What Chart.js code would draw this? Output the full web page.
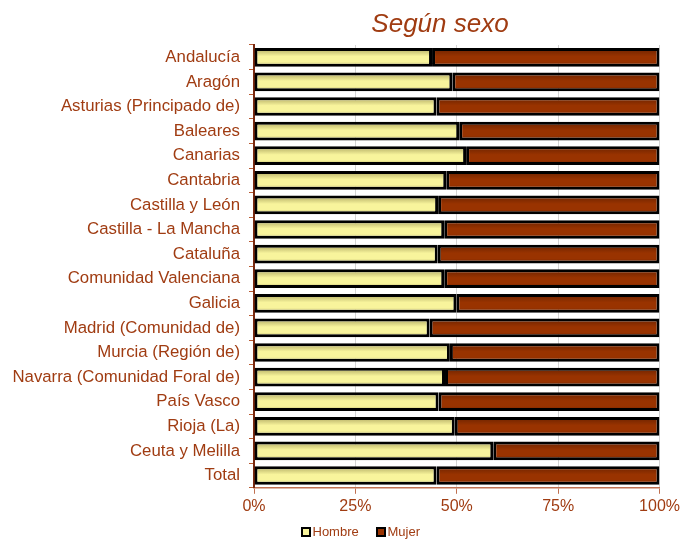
<!DOCTYPE html>
<html>
<head>
<meta charset="utf-8">
<script src="https://cdn.jsdelivr.net/npm/chart.js@4.4.1/dist/chart.umd.min.js"></script>
<style>
  html, body { margin: 0; padding: 0; background: #fff; }
  #wrap { width: 683px; height: 540px; }
</style>
</head>
<body>
<div id="wrap"><canvas id="porSexo"></canvas></div>
<script>
const regiones = ['Andalucía', 'Aragón', 'Asturias (Principado de)', 'Baleares', 'Canarias', 'Cantabria',
  'Castilla y León', 'Castilla - La Mancha', 'Cataluña', 'Comunidad Valenciana', 'Galicia',
  'Madrid (Comunidad de)', 'Murcia (Región de)', 'Navarra (Comunidad Foral de)', 'País Vasco',
  'Rioja (La)', 'Ceuta y Melilla', 'Total'];
const hombre = [43.9, 48.9, 45.0, 50.6, 52.3, 47.4, 45.4, 46.9, 45.3, 46.9, 49.9, 43.3, 48.3, 47.1, 45.5, 49.5, 59.0, 45.0];
const mujer = [56.1, 51.1, 55.0, 49.4, 47.7, 52.6, 54.6, 53.1, 54.7, 53.1, 50.1, 56.7, 51.7, 52.9, 54.5, 50.5, 41.0, 55.0];
const xTicks = [0, 25, 50, 75, 100];

const marron = '#993300';
const texto = '#A03C12';
const fuente = "'Liberation Sans', Arial, sans-serif";
const BAR_PCT = 0.76;
const colHombre = '#F8F49C';
const colMujer = '#993300';

// vertical shading for every bar, like the old excel look
function sombreado(chart, claro, oscuro) {
  const area = chart.chartArea;
  const y = chart.scales.y;
  if (!area || !y) return claro;
  const h = area.bottom - area.top;
  const paso = (y.bottom - y.top) / regiones.length;
  const alto = paso * BAR_PCT;
  const g = chart.ctx.createLinearGradient(0, area.top, 0, area.bottom);
  const f = v => Math.min(1, Math.max(0, (v - area.top) / h));
  regiones.forEach((r, i) => {
    const c = y.getPixelForValue(i);
    const t = c - alto / 2;
    g.addColorStop(f(t), oscuro);
    g.addColorStop(f(t + alto * 0.45), claro);
    g.addColorStop(f(t + alto * 0.75), claro);
    g.addColorStop(f(t + alto), oscuro);
  });
  return g;
}

// title and legend drawn by hand, they are not centred on the canvas in the original
const extrasPlugin = {
  id: 'extras',
  afterDraw(chart) {
    const { ctx } = chart;
    ctx.save();
    ctx.font = "italic 26px " + fuente;
    ctx.fillStyle = texto;
    ctx.textAlign = 'center';
    ctx.textBaseline = 'middle';
    ctx.fillText('Según sexo', 440, 25);

    ctx.font = "13px " + fuente;
    ctx.textAlign = 'left';
    const items = [['Hombre', colHombre, 302], ['Mujer', colMujer, 377]];
    items.forEach(([txt, col, x]) => {
      ctx.fillStyle = col;
      ctx.fillRect(x, 528, 8, 8);
      ctx.strokeStyle = '#000';
      ctx.lineWidth = 2;
      ctx.strokeRect(x, 528, 8, 8);
      ctx.fillStyle = texto;
      ctx.fillText(txt, x + 10.5, 532.5);
    });
    ctx.restore();
  }
};

const porSexo = document.getElementById('porSexo');

new Chart(porSexo, {
  type: 'bar',
  data: {
    labels: regiones,
    datasets: [{
      label: 'Hombre',
      data: hombre,
      backgroundColor: ctx => sombreado(ctx.chart, colHombre, '#ABA45E'),
      borderColor: '#000',
      borderWidth: 3,
      borderSkipped: false,
      barPercentage: BAR_PCT,
      categoryPercentage: 1
    },
    {
      label: 'Mujer',
      data: mujer,
      backgroundColor: ctx => sombreado(ctx.chart, colMujer, '#6A2200'),
      borderColor: '#000',
      borderWidth: 3,
      borderSkipped: false,
      barPercentage: BAR_PCT,
      categoryPercentage: 1
    }]
  },
  options: {
    indexAxis: 'y',
    responsive: true,
    maintainAspectRatio: false,
    animation: false,
    layout: { padding: { top: 45, left: 4, right: 22, bottom: 21 } },
    scales: {
      x: {
        stacked: true,
        min: 0,
        max: 100,
        afterBuildTicks: s => { s.ticks = xTicks.map(v => ({ value: v })); },
        ticks: {
          color: texto,
          font: { family: fuente, size: 16 },
          padding: 3,
          callback: v => v + '%'
        },
        grid: { color: '#D4D4D4', tickColor: '#C07050', tickLength: 6 },
        border: { color: '#C07050', width: 1.5 }
      },
      y: {
        stacked: true,
        afterFit: s => { s.width = 250; },
        ticks: {
          color: texto,
          font: { family: fuente, size: 16.8 },
          padding: 9,
          autoSkip: false
        },
        grid: { drawOnChartArea: false, color: '#B85A32', tickLength: 5 },
        border: { color: '#7A2A10', width: 2 }
      }
    },
    plugins: {
      title: { display: false },
      tooltip: { enabled: false },
      legend: { display: false }
    }
  },
  plugins: [extrasPlugin]
});
</script>
</body>
</html>
